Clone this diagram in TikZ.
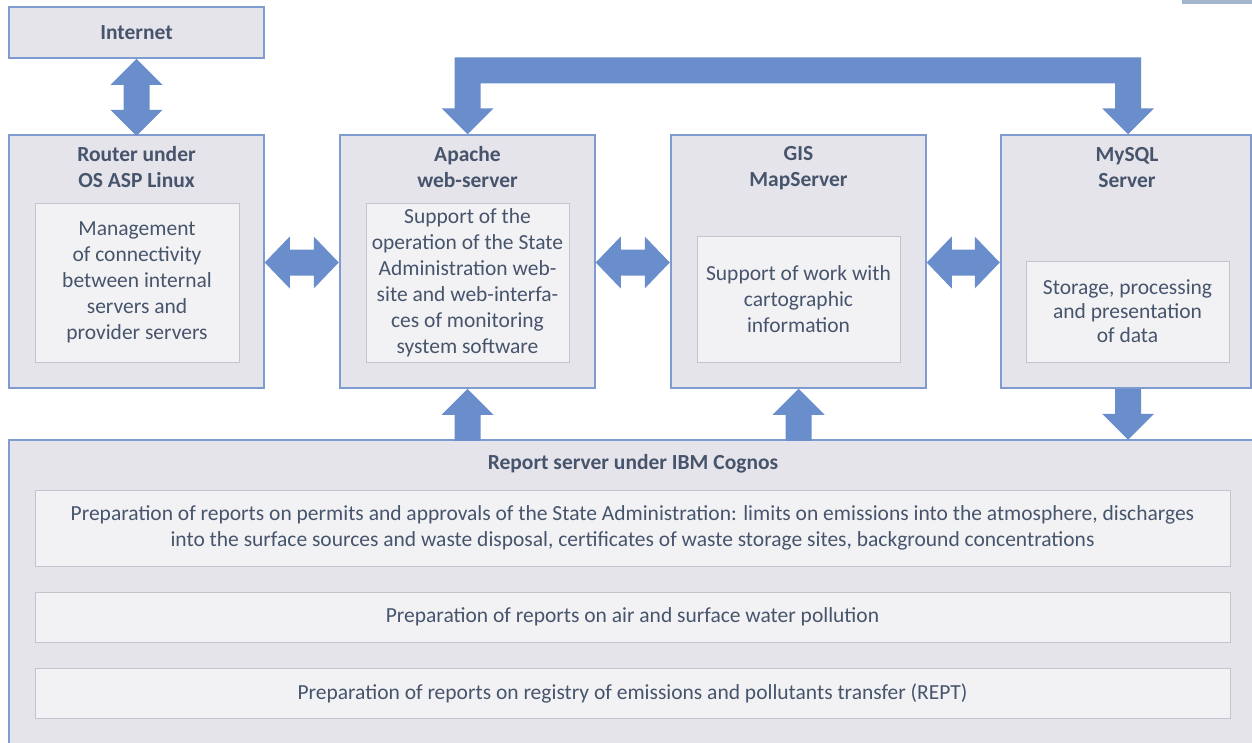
\documentclass[tikz,border=0pt]{standalone}
\usepackage{fontspec}
\setmainfont{Carlito}
\usetikzlibrary{positioning,calc}
\definecolor{boxfill}{HTML}{E6E4EB}
\definecolor{boxline}{HTML}{7F9BD0}
\definecolor{innerfill}{HTML}{F2F2F4}
\definecolor{innerline}{HTML}{C4C4CC}
\definecolor{flow}{HTML}{6A8DCB}
\definecolor{txt}{HTML}{46546C}
\definecolor{corner}{HTML}{A3B6CE}
% fat arrows: #1 start tip, #2 shaft length
\newcommand{\vfat}[2]{\fill[flow] (#1) -- ++(26,26) -- ++(-13,0) -- ++(0,#2) -- ++(13,0) -- ++(-26,26) -- ++(-26,-26) -- ++(13,0) -- ++(0,-#2) -- ++(-13,0) -- cycle;}
\newcommand{\hfat}[2]{\fill[flow] (#1) -- ++(25,-26) -- ++(0,13) -- ++(#2,0) -- ++(0,-13) -- ++(25,26) -- ++(-25,26) -- ++(0,-13) -- ++(-#2,0) -- ++(0,13) -- cycle;}
\newcommand{\upfat}[2]{\fill[flow] (#1) -- ++(26,26) -- ++(-13,0) -- ++(0,#2) -- ++(-26,0) -- ++(0,-#2) -- ++(-13,0) -- cycle;}
\newcommand{\downfat}[2]{\fill[flow] (#1) -- ++(13,0) -- ++(0,#2) -- ++(13,0) -- ++(-26,26) -- ++(-26,-26) -- ++(13,0) -- ++(0,-#2) -- cycle;}

\begin{document}
\begin{tikzpicture}[x=1pt,y=-1pt,
	outer/.style={draw=boxline,fill=boxfill,line width=1.5pt,inner sep=0pt},
	inner/.style={draw=innerline,fill=innerfill,line width=1pt,inner sep=0pt,align=center,text=txt,font=\fontsize{21.5}{26}\selectfont},
	title/.style={align=center,text=txt,font=\fontsize{21.5}{26}\selectfont\bfseries}]
		\useasboundingbox (0,0) rectangle (1252,742);
		\clip (0,0) rectangle (1252,742);
		\fill[corner] (1182,0) rectangle (1252,3.5);
		% servers
		\node[outer,title,minimum width=255pt,minimum height=51pt] (internet) at (136.5,32.5) {Internet};
		\node[outer,minimum width=255pt,minimum height=253pt] (router) at (136.5,261.5) {};
		\node[outer,minimum width=255pt,minimum height=253pt] (apache) at (467.5,261.5) {};
		\node[outer,minimum width=255pt,minimum height=253pt] (gis) at (798.5,261.5) {};
		\node[outer,minimum width=250pt,minimum height=253pt] (mysql) at (1126,261.5) {};
		\node[outer,anchor=north west,minimum width=1260pt,minimum height=320pt] (report) at (8,439) {};
		\node[title] (routerT) at (136.5,167) {Router under\\OS ASP Linux};
		\node[title] (apacheT) at (467.5,167) {Apache\\web-server};
		\node[title] (gisT) at (798.5,168) {GIS\\MapServer};
		\node[title] (mysqlT) at (1127,168) {MySQL\\Server};
		\node[title] (reportT) at (633,464) {Report server under IBM Cognos};
		% tasks
		\node[inner,minimum width=204pt,minimum height=159pt] (routerIn) at (137,282.5) {Management\\of connectivity\\between internal\\servers and\\provider servers};
		\node[inner,minimum width=203pt,minimum height=159pt] (apacheIn) at (467.5,282.5) {Support of the\\operation of the State\\Administration web-\\site and web-interfa-\\ces of monitoring\\system software};
		\node[inner,minimum width=203pt,minimum height=126pt] (gisIn) at (798.5,299) {Support of work with\\cartographic\\information};
		\node[inner,minimum width=203pt,minimum height=101pt,font=\fontsize{21.5}{24}\selectfont] (mysqlIn) at (1127.5,311.5) {Storage, processing\\and presentation\\of data};
		\node[inner,minimum width=1195pt,minimum height=76pt] (rep1) at (632.5,528) {Preparation of reports on permits and approvals of the State Administration: limits on emissions into the atmosphere, discharges\\into the surface sources and waste disposal, certificates of waste storage sites, background concentrations};
		\node[inner,minimum width=1195pt,minimum height=50pt] (rep2) at (632.5,617) {Preparation of reports on air and surface water pollution};
		\node[inner,minimum width=1195pt,minimum height=50pt] (rep3) at (632.5,693) {Preparation of reports on registry of emissions and pollutants transfer (REPT)};
		% links
		\vfat{internet.south}{25}
		\hfat{$(router.east)+(0,1)$}{24}
		\hfat{$(apache.east)+(0,1)$}{24}
		\hfat{$(gis.east)+(0,1)$}{23}
		\upfat{apache.south}{26}
		\upfat{gis.south}{26}
		\downfat{$(mysql.south)+(2,0)$}{25}
		\fill[flow] (apache.north) -- ++(-26,-26) -- ++(13,0) -- ++(0,-51) -- ($(mysql.north)+(15,-77)$) -- ++(0,51) -- ++(13,0) -- ($(mysql.north)+(2,0)$) -- ++(-26,-26) -- ++(13,0) -- ++(0,-25) -- ($(apache.north)+(13,-51)$) -- ++(0,25) -- ++(13,0) -- cycle;
	\end{tikzpicture}
\end{document}
